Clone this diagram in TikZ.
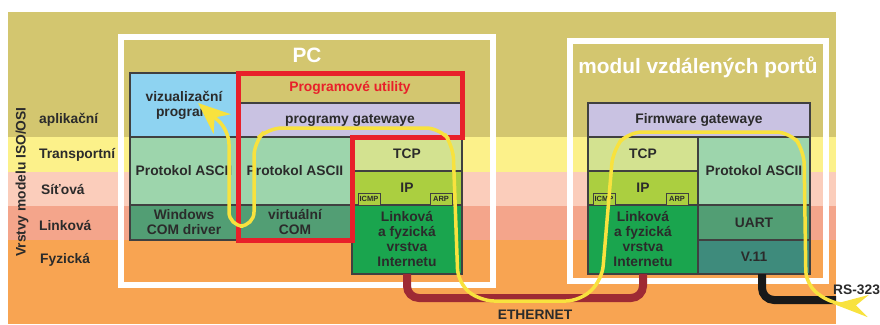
\documentclass[tikz,border=0pt]{standalone}
\usepackage{fontspec}
\setmainfont{Liberation Sans}
\usetikzlibrary{positioning, arrows.meta}
\definecolor{olivova}{HTML}{D3C66F}
\definecolor{zluta}{HTML}{FCF18A}
\definecolor{ruzova}{HTML}{FBCDBB}
\definecolor{lososova}{HTML}{F4A58B}
\definecolor{oranzova}{HTML}{F8A452}
\definecolor{modra}{HTML}{8ED3F1}
\definecolor{mata}{HTML}{9DD5AC}
\definecolor{zelena}{HTML}{529E74}
\definecolor{tcpbarva}{HTML}{D3E290}
\definecolor{ipbarva}{HTML}{ABCF40}
\definecolor{sytazelena}{HTML}{1AA54E}
\definecolor{levandule}{HTML}{C9C2E2}
\definecolor{petrol}{HTML}{3E8B7C}
\definecolor{cervena}{HTML}{E8202A}
\definecolor{kabel}{HTML}{9E2A34}
\definecolor{tok}{HTML}{F8E23E}
\definecolor{popis}{HTML}{2B2B2B}
\tikzstyle{blok} = [draw=black!75, line width=1.2pt, rectangle, inner sep=0pt, outer sep=0pt, align=center, text=popis, font=\fontsize{13.8}{15}\selectfont\bfseries]
\tikzstyle{mini} = [draw=black!75, fill=ipbarva, line width=0.8pt, rectangle, inner sep=1pt, outer sep=0pt, minimum height=12pt, minimum width=22pt, text=popis, font=\fontsize{7.5}{7.5}\selectfont\bfseries]
\tikzstyle{vrstva} = [anchor=west, inner sep=0pt, text=popis, font=\fontsize{13.8}{15}\selectfont\bfseries]
\tikzstyle{ramecek} = [draw=white, line width=6pt, rectangle, inner sep=0pt]
\tikzstyle{nadpis} = [text=white, inner sep=0pt, font=\fontsize{20.8}{22}\selectfont\bfseries]
\tikzstyle{vedeni} = [line width=8pt, rounded corners=12pt]
\tikzstyle{trasa} = [draw=tok, line width=3.5pt, rounded corners=14pt]
\begin{document}
\begin{tikzpicture}[x=1pt, y=-1pt]
	\useasboundingbox (0,0) rectangle (880,324);
	\fill[olivova] (8,12) rectangle (836,137);
	\fill[zluta] (8,137) rectangle (836,172);
	\fill[ruzova] (8,172) rectangle (836,206);
	\fill[lososova] (8,206) rectangle (836,240);
	\fill[oranzova] (8,240) rectangle (836,324);

	\node[vrstva, rotate=90, anchor=center] (osa) at (22,182) {Vrstvy modelu ISO/OSI};
	\node[vrstva] (aplikacni) at (39,120) {aplikační};
	\node[vrstva] (transportni) at (39,155) {Transportní};
	\node[vrstva] (sitova) at (41,190) {Síťová};
	\node[vrstva] (linkova) at (39,226) {Linková};
	\node[vrstva] (fyzicka) at (40,260) {Fyzická};

	\node[ramecek, minimum width=372pt, minimum height=248pt] (pc) at (307,161) {};
	\node[ramecek, minimum width=256pt, minimum height=240pt] (modul) at (698,161) {};
	\node[nadpis, below=14pt of pc.north] (pcnadpis) {PC};
	\node[nadpis, below=19pt of modul.north] (modulnadpis) {modul vzdálených portů};

	\node[blok, fill=modra, minimum width=108pt, minimum height=64pt, anchor=north west] (viz) at (130,73) {vizualizační\\program};
	\node[blok, fill=mata, minimum width=108pt, minimum height=68pt, below=0pt of viz] (asciiL) {Protokol ASCII};
	\node[blok, fill=zelena, minimum width=108pt, minimum height=35pt, below=0pt of asciiL] (wincom) {Windows\\COM driver};
	\node[blok, fill=olivova, text=cervena, minimum width=224pt, minimum height=30pt, anchor=north west] (util) at (viz.north east) {Programové utility};
	\node[blok, fill=levandule, minimum width=224pt, minimum height=34pt, below=0pt of util] (gwPC) {programy gatewaye};
	\node[blok, fill=mata, minimum width=114pt, minimum height=68pt, anchor=north west] (asciiM) at (gwPC.south west) {Protokol ASCII};
	\node[blok, fill=zelena, minimum width=114pt, minimum height=35pt, below=0pt of asciiM] (vcom) {virtuální\\COM};
	\node[blok, fill=tcpbarva, minimum width=110pt, minimum height=34pt, anchor=north west] (tcpPC) at (asciiM.north east) {TCP};
	\node[blok, fill=ipbarva, minimum width=110pt, minimum height=34pt, below=0pt of tcpPC] (ipPC) {IP};
	\node[blok, fill=sytazelena, minimum width=110pt, minimum height=69pt, below=0pt of ipPC] (linkPC) {Linková\\a fyzická\\vrstva\\Internetu};
	\node[mini, above right=0pt and 6pt of ipPC.south west] (icmpPC) {ICMP};
	\node[mini, above left=0pt and 10pt of ipPC.south east] (arpPC) {ARP};

	\node[blok, fill=levandule, minimum width=222pt, minimum height=34pt, anchor=north west] (fw) at (588,103) {Firmware gatewaye};
	\node[blok, fill=tcpbarva, minimum width=110pt, minimum height=34pt, anchor=north west] (tcpM) at (fw.south west) {TCP};
	\node[blok, fill=ipbarva, minimum width=110pt, minimum height=34pt, below=0pt of tcpM] (ipM) {IP};
	\node[blok, fill=sytazelena, minimum width=110pt, minimum height=69pt, below=0pt of ipM] (linkM) {Linková\\a fyzická\\vrstva\\Internetu};
	\node[mini, above right=0pt and 5pt of ipM.south west] (icmpM) {ICMP};
	\node[mini, above left=0pt and 10pt of ipM.south east] (arpM) {ARP};
	\node[blok, fill=mata, minimum width=112pt, minimum height=68pt, anchor=north west] (asciiR) at (tcpM.north east) {Protokol ASCII};
	\node[blok, fill=zelena, minimum width=112pt, minimum height=35pt, below=0pt of asciiR] (uart) {UART};
	\node[blok, fill=petrol, minimum width=112pt, minimum height=34pt, below=0pt of uart] (v11) {V.11};

	\draw[cervena, line width=5pt] (util.north west) -- (util.north east) -- (gwPC.south east) -- (tcpPC.north west) -- (vcom.south east) -- (vcom.south west) -- cycle;

	\draw[vedeni, draw=kabel] (linkPC.south) -- ++(0,24) -| (linkM.south);
	\coordinate (rskonec) at (836,300);
	\draw[vedeni, draw=black!90] ([xshift=8pt]v11.south) |- (rskonec);
	\node[vrstva, anchor=center] (eth) at (535,315) {ETHERNET};
	\node[vrstva] (rs) at (833,290) {RS-323};

	\coordinate (ocas) at (868,306);
	\coordinate (hrot) at (198,103);
	\draw[trasa, {Stealth[reversed, length=34pt, width=22pt, inset=12pt]}-{Stealth[length=32pt, width=26pt, inset=10pt]}] (ocas) -- (832,304) -- (806,285) -- (804,150) -- (790,132) -- (628,132) -- (613,150) -- (602,280) -- (580,301) -- (480,301) -- (458,283) -- (453,145) -- (440,128) -- (268,128) -- (254,142) -- (254,226) -- (229,226) -- (229,130) -- (hrot);
\end{tikzpicture}
\end{document}
